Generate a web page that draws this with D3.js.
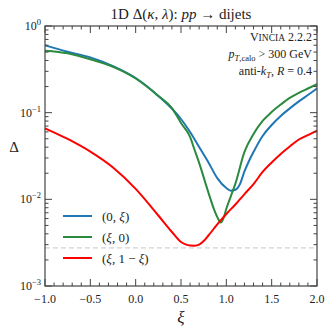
<!DOCTYPE html>
<html>
<head>
<meta charset="utf-8">
<script src="https://cdn.jsdelivr.net/npm/d3@7"></script>
<style>
  body { margin: 0; background: #fff; }
  text { font-family: "Liberation Serif", "DejaVu Serif", serif; fill: #222; }
</style>
</head>
<body>
<div id="chart"></div>
<script>
// values
var xiBlue = [-1.0, -0.75, -0.5, -0.25, 0.0, 0.25, 0.5, 0.6, 0.7, 0.8, 0.9, 1.0, 1.05, 1.1, 1.15, 1.2, 1.25, 1.3, 1.4, 1.5, 1.6, 1.7, 1.8, 1.9, 2.0];
var blueVals = [0.598, 0.505, 0.435, 0.345, 0.251, 0.156, 0.0845, 0.0598, 0.0402, 0.0270, 0.0176, 0.0135, 0.0126, 0.0129, 0.0150, 0.0210, 0.0277, 0.0352, 0.0538, 0.0721, 0.0916, 0.112, 0.135, 0.160, 0.190];

var xiGreen = [-1.0, -0.75, -0.5, -0.25, 0.0, 0.25, 0.4, 0.5, 0.6, 0.65, 0.7, 0.8, 0.86, 0.9, 0.94, 0.97, 1.0, 1.05, 1.1, 1.2, 1.3, 1.4, 1.5, 1.6, 1.7, 1.8, 1.9, 2.0];
var greenVals = [0.519, 0.484, 0.413, 0.337, 0.248, 0.156, 0.113, 0.076, 0.0524, 0.0371, 0.0263, 0.0122, 0.00788, 0.00626, 0.00540, 0.0061, 0.0078, 0.0109, 0.0152, 0.0352, 0.0567, 0.0802, 0.102, 0.124, 0.148, 0.169, 0.190, 0.214];

var xiRed = [-1.0, -0.75, -0.5, -0.25, 0.0, 0.25, 0.4, 0.5, 0.55, 0.6, 0.65, 0.7, 0.75, 0.8, 0.9, 1.0, 1.1, 1.2, 1.3, 1.4, 1.5, 1.6, 1.7, 1.8, 1.9, 2.0];
var redVals = [0.0660, 0.0497, 0.0355, 0.0233, 0.0132, 0.00651, 0.0042, 0.00322, 0.00302, 0.00293, 0.00292, 0.00300, 0.00330, 0.00380, 0.00513, 0.00678, 0.00872, 0.0115, 0.0150, 0.0207, 0.0266, 0.0334, 0.0407, 0.0490, 0.0552, 0.0619];

var refLevel = 0.00275;

var xTicks = [-1.0, -0.5, 0.0, 0.5, 1.0, 1.5, 2.0];
var xTickLabels = ["\u22121.0", "\u22120.5", "0.0", "0.5", "1.0", "1.5", "2.0"];
var yExps = [0, -1, -2, -3];

var legendLabels = [["(0, ", "\u03be", ")"], ["(", "\u03be", ", 0)"], ["(", "\u03be", ", 1 \u2212 ", "\u03be", ")"]];
var colors = ["#1f77b4", "#2a8a3e", "#ff0000"];

var W = 332, H = 332;
var m = {left: 45, right: 15, top: 26, bottom: 46};

var svg = d3.select("#chart").append("svg")
	.attr("width", W)
	.attr("height", H);

var x = d3.scaleLinear().domain([-1, 2]).range([m.left, W - m.right]);
var y = d3.scaleLog().domain([1e-3, 1]).range([H - m.bottom, m.top]);

var axisCol = "#444";

// dashed reference line
svg.append("line")
	.attr("x1", x(-1)).attr("x2", x(2))
	.attr("y1", y(refLevel)).attr("y2", y(refLevel))
	.attr("stroke", "#c8c8c8")
	.attr("stroke-width", 1)
	.attr("stroke-dasharray", "5,3");

// curves
var line = d3.line()
	.x(function(d) { return x(d[0]); })
	.y(function(d) { return y(d[1]); })
	.curve(d3.curveMonotoneX);

var series = [
	d3.zip(xiBlue, blueVals),
	d3.zip(xiGreen, greenVals),
	d3.zip(xiRed, redVals)
];

series.forEach(function(s, i) {
	svg.append("path")
		.datum(s)
		.attr("d", line)
		.attr("fill", "none")
		.attr("stroke", colors[i])
		.attr("stroke-width", 2);
});

// frame
svg.append("rect")
	.attr("x", x(-1)).attr("y", y(1))
	.attr("width", x(2) - x(-1))
	.attr("height", y(1e-3) - y(1))
	.attr("fill", "none")
	.attr("stroke", axisCol)
	.attr("stroke-width", 1.2);

// x ticks, inward on top and bottom
var xMinor = d3.range(-10, 21).map(function(d) { return d / 10; });
xMinor.forEach(function(v) {
	var major = xTicks.indexOf(v) >= 0;
	var len = major ? 7 : 3.5;
	svg.append("line")
		.attr("x1", x(v)).attr("x2", x(v))
		.attr("y1", y(1e-3)).attr("y2", y(1e-3) - len)
		.attr("stroke", axisCol).attr("stroke-width", 1);
	svg.append("line")
		.attr("x1", x(v)).attr("x2", x(v))
		.attr("y1", y(1)).attr("y2", y(1) + len)
		.attr("stroke", axisCol).attr("stroke-width", 1);
});

svg.selectAll(".xlab")
	.data(xTicks)
	.enter().append("text")
	.attr("x", function(d) { return x(d); })
	.attr("y", y(1e-3) + 17)
	.attr("text-anchor", "middle")
	.attr("font-size", 12)
	.text(function(d, i) { return xTickLabels[i]; });

// y ticks, inward on left and right
var yMinor = [];
[-3, -2, -1].forEach(function(e) {
	for (var k = 1; k <= 9; k++) yMinor.push(k * Math.pow(10, e));
});
yMinor.push(1);
yMinor.forEach(function(v) {
	var major = Math.abs(Math.log10(v) - Math.round(Math.log10(v))) < 1e-9;
	var len = major ? 7 : 3.5;
	svg.append("line")
		.attr("x1", x(-1)).attr("x2", x(-1) + len)
		.attr("y1", y(v)).attr("y2", y(v))
		.attr("stroke", axisCol).attr("stroke-width", 1);
	svg.append("line")
		.attr("x1", x(2)).attr("x2", x(2) - len)
		.attr("y1", y(v)).attr("y2", y(v))
		.attr("stroke", axisCol).attr("stroke-width", 1);
});

yExps.forEach(function(e) {
	var t = svg.append("text")
		.attr("x", x(-1) - 4)
		.attr("y", y(Math.pow(10, e)) + 4)
		.attr("text-anchor", "end")
		.attr("font-size", 12);
	t.append("tspan").text("10");
	t.append("tspan")
		.attr("dy", -5)
		.attr("font-size", 8.5)
		.text(e < 0 ? "\u2212" + (-e) : String(e));
});

// axis labels
svg.append("text")
	.attr("x", 14).attr("y", 152)
	.attr("text-anchor", "middle")
	.attr("font-size", 15)
	.text("\u0394");

svg.append("text")
	.attr("x", (x(-1) + x(2)) / 2).attr("y", 323)
	.attr("text-anchor", "middle")
	.attr("font-size", 17)
	.attr("font-style", "italic")
	.text("\u03be");

// title
var title = svg.append("text")
	.attr("x", (x(-1) + x(2)) / 2).attr("y", 19)
	.attr("text-anchor", "middle")
	.attr("font-size", 15);
title.append("tspan").text("1D \u0394(");
title.append("tspan").attr("font-style", "italic").text("\u03ba");
title.append("tspan").text(", ");
title.append("tspan").attr("font-style", "italic").text("\u03bb");
title.append("tspan").text("): ");
title.append("tspan").attr("font-style", "italic").text("pp");
title.append("tspan").text(" \u2192 dijets");

// annotations, right aligned
var ax = x(2) - 5;
var a1 = svg.append("text")
	.attr("x", ax).attr("y", 41)
	.attr("text-anchor", "end")
	.attr("font-size", 12);
a1.append("tspan").text("V");
a1.append("tspan").attr("font-size", 9.5).text("INCIA");
a1.append("tspan").text(" 2.2.2");

var a2 = svg.append("text")
	.attr("x", ax).attr("y", 58)
	.attr("text-anchor", "end")
	.attr("font-size", 12);
a2.append("tspan").attr("font-style", "italic").text("p");
a2.append("tspan").attr("font-size", 8.5).attr("dy", 3).attr("font-style", "italic").text("T");
a2.append("tspan").attr("font-size", 8.5).text(",calo");
a2.append("tspan").attr("dy", -3).text(" > 300 GeV");

var a3 = svg.append("text")
	.attr("x", ax).attr("y", 75)
	.attr("text-anchor", "end")
	.attr("font-size", 12);
a3.append("tspan").text("anti-");
a3.append("tspan").attr("font-style", "italic").text("k");
a3.append("tspan").attr("font-size", 8.5).attr("dy", 3).attr("font-style", "italic").text("T");
a3.append("tspan").attr("dy", -3).text(", ");
a3.append("tspan").attr("font-style", "italic").text("R");
a3.append("tspan").text(" = 0.4");

// legend
var legY = [216, 237, 258];
legendLabels.forEach(function(parts, i) {
	svg.append("line")
		.attr("x1", 63).attr("x2", 92)
		.attr("y1", legY[i]).attr("y2", legY[i])
		.attr("stroke", colors[i])
		.attr("stroke-width", 2);
	var t = svg.append("text")
		.attr("x", 102).attr("y", legY[i] + 4.5)
		.attr("font-size", 13);
	parts.forEach(function(p) {
		var ts = t.append("tspan").text(p);
		if (p === "\u03be") ts.attr("font-style", "italic");
	});
});
</script>
</body>
</html>
